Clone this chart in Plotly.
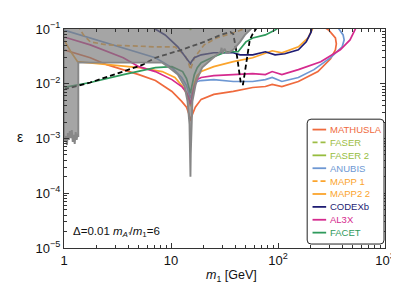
import plotly.graph_objects as go

# ---------------- data (m1 in GeV, epsilon) ----------------
mathusla_m = [1.0, 1.76, 2.51, 5.01, 7.15, 10.2, 12.59, 13.97, 14.73, 15.04, 15.2, 15.36, 15.85, 16.87,
              19.13, 25.1, 38.2, 58.0, 76.2, 88.2, 108.7, 155, 236, 310, 344, 351, 344, 297, 251]
mathusla_e = [0.0417, 0.0299, 0.0223, 0.0147, 0.01145, 0.00724, 0.00477, 0.00372, 0.00278, 0.00235, 0.00207,
              0.00235, 0.00278, 0.00372, 0.00519, 0.00639, 0.00724, 0.00855, 0.0089, 0.0097, 0.0089, 0.011,
              0.0167, 0.0286, 0.0417, 0.0535, 0.0687, 0.0959, 0.118]

faser_m = [12.0, 14.0, 14.9, 15.2, 15.5, 16.5, 19.0]
faser_e = [0.3, 0.15, 0.11, 0.103, 0.11, 0.15, 0.3]

faser2_m = [12.0, 14.0, 14.9, 15.2, 15.5, 16.5, 19.0]
faser2_e = [0.3, 0.14, 0.105, 0.096, 0.105, 0.14, 0.3]

anubis_m = [1.0, 2.51, 7.15, 10.2, 12.59, 13.97, 14.73, 15.04, 15.2, 15.36, 15.85, 16.52, 17.59, 19.13,
            25.1, 38.2, 58.0, 76.2, 88.2, 108.7, 155, 217, 310, 398, 415, 406, 366]
anubis_e = [0.0959, 0.0558, 0.0299, 0.0197, 0.013, 0.0093, 0.00695, 0.00588, 0.00541, 0.00588, 0.00724,
            0.0093, 0.011, 0.01145, 0.0119, 0.011, 0.011, 0.0119, 0.013, 0.011, 0.013, 0.0181, 0.0299,
            0.0472, 0.0632, 0.0779, 0.104]

mapp1_m = [1.34, 1.52, 1.76, 2.51, 7.15, 10.87, 13.4, 14.58, 15.2, 15.85, 16.52, 20.4, 26.7, 40.6, 50.1]
mapp1_e = [0.118, 0.0779, 0.0582, 0.0513, 0.0472, 0.0472, 0.0338, 0.0243, 0.0181, 0.0243, 0.0299,
           0.0513, 0.0687, 0.0883, 0.104]

mapp2_m = [1.0, 1.158, 1.34, 2.51, 5.01, 8.28, 10.87, 12.85, 13.97, 14.73, 15.04, 15.2, 15.36, 15.85,
           16.52, 17.59, 19.13, 25.1, 38.2, 58.0, 76.2, 88.2, 108.7, 155, 191, 212]
mapp2_e = [0.0632, 0.0384, 0.0253, 0.0223, 0.0197, 0.0167, 0.013, 0.0089, 0.00667, 0.00519, 0.00421,
           0.00387, 0.0044, 0.00667, 0.0101, 0.0141, 0.0167, 0.0205, 0.0253, 0.0299, 0.0368, 0.04,
           0.0368, 0.0472, 0.0687, 0.104]

codexb_m = [6.86, 8.82, 11.58, 13.97, 14.89, 15.2, 15.52, 16.52, 19.13, 25.1, 38.2, 44.2, 58.0, 76.2,
            93.9, 115.8, 155, 183.5, 204, 208]
codexb_e = [0.104, 0.0779, 0.0472, 0.0299, 0.0253, 0.0233, 0.0253, 0.0299, 0.0338, 0.0368, 0.0368,
            0.0338, 0.0338, 0.0384, 0.0338, 0.0353, 0.0417, 0.0582, 0.0883, 0.118]

al3x_m = [1.0, 1.76, 3.58, 5.01, 7.15, 10.2, 12.59, 13.97, 14.73, 15.04, 15.2, 15.36, 15.85, 16.52,
          17.59, 19.13, 25.1, 38.2, 58.0, 76.2, 88.2, 108.7, 155, 251, 382, 471, 523, 545]
al3x_e = [0.0716, 0.0513, 0.0299, 0.0205, 0.0167, 0.0119, 0.0089, 0.00695, 0.00541, 0.00458, 0.00421,
          0.00458, 0.00613, 0.0089, 0.0119, 0.013, 0.0141, 0.0147, 0.0153, 0.0147, 0.0167, 0.0147,
          0.0181, 0.0253, 0.0417, 0.0632, 0.092, 0.113]

facet_m = [1.0, 1.76, 3.58, 7.15, 10.2, 12.85, 13.97, 14.73, 15.04, 15.2, 15.36, 15.85, 16.52, 17.59,
           19.13, 25.1, 33.0, 42.4, 45.1, 50.1, 58.0, 76.2, 93.9, 108.7]
facet_e = [0.00855, 0.01054, 0.0147, 0.0197, 0.0205, 0.0167, 0.01244, 0.0089, 0.00724, 0.00667, 0.00755,
           0.0101, 0.0147, 0.0197, 0.0243, 0.0311, 0.0384, 0.0384, 0.0453, 0.0582, 0.0687, 0.0779,
           0.0959, 0.118]

other_m = [1.0, 1.76, 3.58, 5.45, 7.15, 12.59, 20.4, 29.1, 35.9, 38.2, 40.6, 43.3, 45.1, 47.1, 49.1,
           52.3, 54.5, 58.0, 61.8, 65.8]
other_e = [0.00787, 0.01054, 0.0167, 0.0223, 0.0299, 0.0417, 0.0582, 0.0779, 0.0883, 0.0812, 0.0417,
           0.0167, 0.0097, 0.0097, 0.0167, 0.0417, 0.0632, 0.0812, 0.1, 0.118]

# excluded region boundary
excl_m = [1.0, 1.0, 1.021, 1.043, 1.065, 1.087, 1.11, 1.134, 1.158, 1.182, 1.207, 1.233, 1.259, 1.286,
          1.313, 1.34, 1.36, 1.36, 2.51, 8.28, 9.39, 11.58, 13.4, 14.27, 14.89, 15.1, 15.2, 15.3, 15.52,
          15.85, 17.2, 19.54, 23.6, 26.7, 29.1, 29.7, 30.3, 31.6, 33.0, 34.4, 38.2, 44.2, 49.1, 54.5,
          58.0, 58.0, 1.0]
excl_e = [0.146, 0.00121, 0.000865, 0.00111, 0.00076, 0.00126, 0.00094, 0.00137, 0.00102, 0.00143,
          0.000865, 0.00116, 0.000795, 0.00131, 0.00094, 0.00121, 0.00106, 0.0243, 0.0243, 0.0243,
          0.0205, 0.0147, 0.0089, 0.00477, 0.00183, 0.000525, 0.000201, 0.000525, 0.00183, 0.00477,
          0.011, 0.0197, 0.0275, 0.0338, 0.0384, 0.0453, 0.0353, 0.0435, 0.0368, 0.0368, 0.0417,
          0.0582, 0.0779, 0.0959, 0.108, 0.146, 0.146]

x_tickvals = [1, 10, 100, 1000]
x_ticktext = ["1", "10", "10<sup>2</sup>", "10<sup>3</sup>"]
y_tickvals = [1e-5, 1e-4, 1e-3, 1e-2, 1e-1]
y_ticktext = ["10<sup>−5</sup>", "10<sup>−4</sup>", "10<sup>−3</sup>", "10<sup>−2</sup>", "10<sup>−1</sup>"]

series = [
    ("MATHUSLA", mathusla_m, mathusla_e, "#ef6a3d", "solid"),
    ("FASER", faser_m, faser_e, "#9dbd45", "dash"),
    ("FASER 2", faser2_m, faser2_e, "#96bd3e", "solid"),
    ("ANUBIS", anubis_m, anubis_e, "#6d97d3", "solid"),
    ("MAPP 1", mapp1_m, mapp1_e, "#fba42c", "dash"),
    ("MAPP2 2", mapp2_m, mapp2_e, "#fba42c", "solid"),
    ("CODEXb", codexb_m, codexb_e, "#1e1c73", "solid"),
    ("AL3X", al3x_m, al3x_e, "#d52a8e", "solid"),
    ("FACET", facet_m, facet_e, "#2f9a5c", "solid"),
]

FONT = "Liberation Sans, Arial, sans-serif"
fig = go.Figure()

for name, xs, ys, col, dash in series:
    fig.add_trace(go.Scatter(x=xs, y=ys, mode="lines", name=name, showlegend=False,
                             line=dict(color=col, width=1.7,
                                       dash="5px,3px" if dash == "dash" else "solid")))

fig.add_trace(go.Scatter(x=other_m, y=other_e, mode="lines", showlegend=False,
                         line=dict(color="black", width=1.8, dash="5px,3px")))

fig.add_trace(go.Scatter(x=excl_m, y=excl_e, mode="lines", fill="toself", showlegend=False,
                         fillcolor="rgba(122,122,122,0.68)",
                         line=dict(color="#878787", width=1.9)))

# plot geometry (pixels) for paper conversion of legend box
L, R, T, B = 56, 386, 19, 240
def px(xp):
    return (xp - L) / (R - L)
def py(yp):
    return (B - yp) / (B - T)

# legend box with rounded corners
x0, x1, y0, y1 = px(306), px(385), py(236), py(110)
rx, ry = 4 / (R - L), 4 / (B - T)
path = (f"M {x0+rx},{y0} L {x1-rx},{y0} Q {x1},{y0} {x1},{y0+ry} L {x1},{y1-ry} "
        f"Q {x1},{y1} {x1-rx},{y1} L {x0+rx},{y1} Q {x0},{y1} {x0},{y1-ry} "
        f"L {x0},{y0+ry} Q {x0},{y0} {x0+rx},{y0} Z")
shapes = [dict(type="path", path=path, xref="paper", yref="paper",
               line=dict(color="#222", width=1), fillcolor="white", layer="above")]
annotations = []
for i, (name, xs, ys, col, dash) in enumerate(series):
    yy = py(120.5 + 13.0 * i)
    shapes.append(dict(type="line", xref="paper", yref="paper", x0=px(311.5), x1=px(325.5),
                       y0=yy, y1=yy, layer="above",
                       line=dict(color=col, width=1.8, dash="5px,3px" if dash == "dash" else "solid")))
    annotations.append(dict(text=name, xref="paper", yref="paper", x=px(327.5), y=yy,
                            xanchor="left", yanchor="middle", showarrow=False,
                            font=dict(family=FONT, size=9.5, color=col)))

annotations.append(dict(text="Δ=0.01 <i>m</i><sub><i>A'</i></sub>/<i>m</i><sub>1</sub>=6",
                        xref="paper", yref="paper", x=px(63), y=py(224), xanchor="left",
                        yanchor="middle", showarrow=False, font=dict(family=FONT, size=11.5, color="#111")))
annotations.append(dict(text="<i>m</i><sub>1</sub> [GeV]", xref="paper", yref="paper",
                        x=px(228), y=py(268), xanchor="center", yanchor="middle", showarrow=False,
                        font=dict(family=FONT, size=12.5, color="#111")))
annotations.append(dict(text="ε", xref="paper", yref="paper", x=px(11), y=py(128),
                        xanchor="center", yanchor="middle", showarrow=False,
                        font=dict(family=FONT, size=14, color="#111")))

x_minor = [k * 10 ** e for e in range(0, 3) for k in range(2, 10)]
y_minor = [k * 10.0 ** e for e in range(-5, -1) for k in range(2, 10)]

axis_common = dict(type="log", showgrid=False, zeroline=False, showline=True, linecolor="#333",
                   linewidth=1, mirror="ticks", ticks="inside", ticklen=5, tickwidth=1, tickcolor="#333",
                   tickfont=dict(family=FONT, size=13, color="#111"), ticklabeloverflow="allow")

fig.update_layout(
    width=399, height=284, margin=dict(l=L, r=399 - R, t=T, b=284 - B),
    paper_bgcolor="white", plot_bgcolor="white",
    xaxis=dict(range=[0, 3], tickmode="array", tickvals=x_tickvals, ticktext=x_ticktext,
               minor=dict(tickmode="array", tickvals=x_minor, ticks="inside", ticklen=3,
                          tickcolor="#333", showgrid=False), **axis_common),
    yaxis=dict(range=[-5, -1], tickmode="array", tickvals=y_tickvals, ticktext=y_ticktext,
               minor=dict(tickmode="array", tickvals=y_minor, ticks="inside", ticklen=3,
                          tickcolor="#333", showgrid=False), **axis_common),
    shapes=shapes, annotations=annotations, showlegend=False,
)

fig.write_html("out.html")
